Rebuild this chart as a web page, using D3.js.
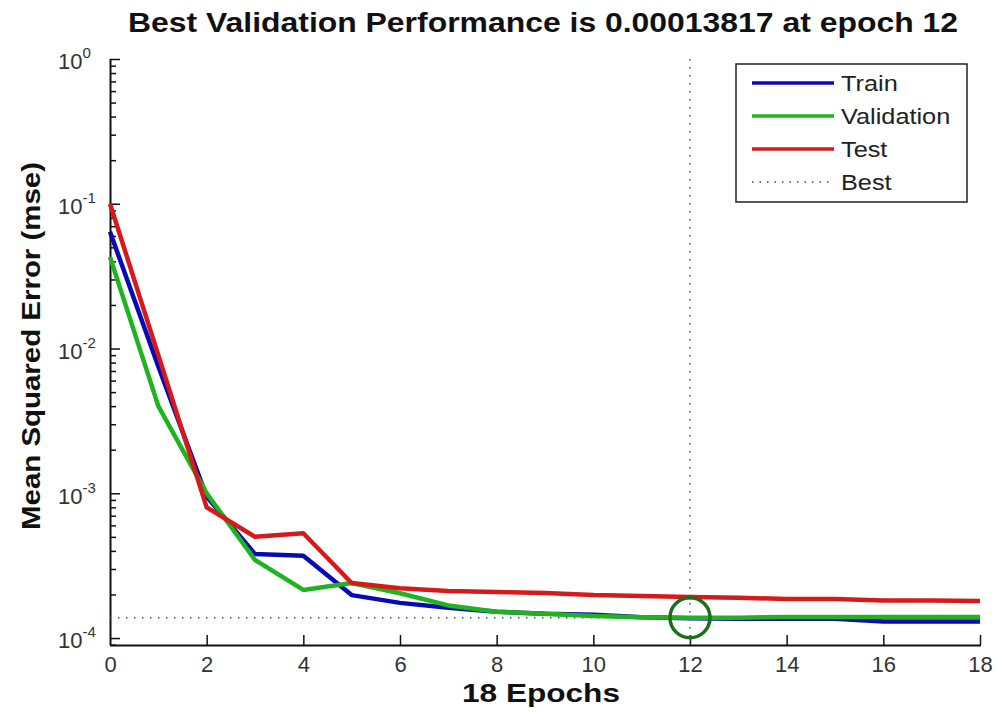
<!DOCTYPE html>
<html>
<head>
<meta charset="utf-8">
<script src="https://cdn.jsdelivr.net/npm/d3@7"></script>
<style>
  body { margin: 0; background: #fff; }
  svg { display: block; }
</style>
</head>
<body>
<svg id="chart" width="997" height="713"></svg>
<script>
const epochs = d3.range(0, 19);
const trainValues = [0.064, 0.0075, 0.00095, 0.00038, 0.00037, 0.000198, 0.000175, 0.000162, 0.000152, 0.000147, 0.000145, 0.000139, 0.000137, 0.000136, 0.000136, 0.000136, 0.00013, 0.00013, 0.00013];
const validationValues = [0.043, 0.004, 0.001, 0.000346, 0.000215, 0.00024, 0.000204, 0.000168, 0.000152, 0.000147, 0.000142, 0.000139, 0.00013817, 0.00013817, 0.00014, 0.00014, 0.00014, 0.00014, 0.00014];
const testValues = [0.1, 0.009, 0.0008, 0.0005, 0.00053, 0.00024, 0.000221, 0.000211, 0.000208, 0.000205, 0.000198, 0.000195, 0.000192, 0.00019, 0.000186, 0.000186, 0.000182, 0.000182, 0.00018];
const bestEpoch = 12;
const bestValue = 0.00013817;
const xTicks = [0, 2, 4, 6, 8, 10, 12, 14, 16, 18];
const yMajorExponents = [0, -1, -2, -3, -4];
const seriesNames = ["Train", "Validation", "Test", "Best"];
const titleText = "Best Validation Performance is 0.00013817 at epoch 12";
const xLabelText = "18 Epochs";
const yLabelText = "Mean Squared Error  (mse)";

const colors = { Train: "#0a0ab4", Validation: "#1fb41f", Test: "#d41a1a", Best: "#2a7a2a" };

const svg = d3.select("#chart");
const plotLeft = 110, plotRight = 980, plotTop = 59, plotBottom = 645;

const x = d3.scaleLinear().domain([0, 18]).range([plotLeft, plotRight]);
const y = d3.scaleLog().domain([Math.pow(10, -4.048), 1]).range([plotBottom, plotTop]);

const fontTick = "'Liberation Sans', Arial, sans-serif";

svg.append("text")
  .attr("x", 128).attr("y", 32)
  .attr("font-family", fontTick)
  .attr("font-weight", "bold")
  .attr("font-size", 27)
  .attr("textLength", 830)
  .attr("lengthAdjust", "spacingAndGlyphs")
  .attr("fill", "#111")
  .text(titleText);

svg.append("text")
  .attr("x", 462).attr("y", 702)
  .attr("font-family", fontTick)
  .attr("font-weight", "bold")
  .attr("font-size", 25)
  .attr("textLength", 158)
  .attr("lengthAdjust", "spacingAndGlyphs")
  .attr("fill", "#111")
  .text(xLabelText);

svg.append("text")
  .attr("transform", "translate(40,530) rotate(-90)")
  .attr("font-family", fontTick)
  .attr("font-weight", "bold")
  .attr("font-size", 26)
  .attr("textLength", 368)
  .attr("lengthAdjust", "spacingAndGlyphs")
  .attr("fill", "#111")
  .text(yLabelText);

const minorTicks = [];
for (let e = -5; e < 0; e++) {
  for (let m = 2; m <= 9; m++) {
    const v = m * Math.pow(10, e);
    if (v >= y.domain()[0] && v <= 1) minorTicks.push(v);
  }
}
svg.append("g")
  .attr("transform", `translate(${plotLeft},0)`)
  .call(d3.axisLeft(y).tickValues(minorTicks).tickSizeInner(-6).tickSizeOuter(0).tickFormat(""))
  .call(g => g.select(".domain").remove())
  .call(g => g.selectAll(".tick line").attr("stroke", "#111").attr("stroke-width", 1.5));

const yAxis = svg.append("g")
  .attr("transform", `translate(${plotLeft},0)`)
  .call(d3.axisLeft(y).tickValues(yMajorExponents.map(e => Math.pow(10, e))).tickSizeInner(-10).tickSizeOuter(0).tickPadding(18).tickFormat(""));
yAxis.select(".domain").attr("stroke", "#111").attr("stroke-width", 2)
  .attr("d", `M0.5,${plotTop}V${plotBottom}`);
yAxis.selectAll(".tick line").attr("stroke", "#111").attr("stroke-width", 1.5);
yAxis.selectAll(".tick").each(function(d) {
  const t = d3.select(this).select("text");
  const exp = Math.round(Math.log10(d));
  t.attr("x", -52).attr("dy", "0.45em").attr("text-anchor", "start")
    .attr("font-family", fontTick).attr("font-size", 22).attr("fill", "#333");
  t.text(null);
  t.append("tspan").text("10");
  t.append("tspan").attr("dy", -11).attr("font-size", 15).text(String(exp));
});

const xAxis = svg.append("g")
  .attr("transform", `translate(0,${plotBottom})`)
  .call(d3.axisBottom(x).tickValues(xTicks).tickSizeInner(-10).tickSizeOuter(0).tickPadding(11));
xAxis.select(".domain").attr("stroke", "#111").attr("stroke-width", 2)
  .attr("d", `M${plotLeft},0.5H${plotRight + 1}`);
xAxis.selectAll(".tick line").attr("stroke", "#111").attr("stroke-width", 1.5);
xAxis.selectAll(".tick text").attr("font-family", fontTick).attr("font-size", 22).attr("fill", "#333");
xAxis.selectAll(".tick").filter(d => d === 0).select("line").remove();

svg.append("line")
  .attr("x1", x(0)).attr("x2", x(18))
  .attr("y1", y(bestValue)).attr("y2", y(bestValue))
  .attr("stroke", colors.Best).attr("stroke-width", 1.5)
  .attr("stroke-dasharray", "1.5,6.5");
svg.append("line")
  .attr("x1", x(bestEpoch)).attr("x2", x(bestEpoch))
  .attr("y1", plotTop).attr("y2", plotBottom)
  .attr("stroke", colors.Best).attr("stroke-width", 1.5)
  .attr("stroke-dasharray", "1.5,6.5");

const line = d3.line().x((d, i) => x(epochs[i])).y(d => y(d));
const series = [
  { name: "Train", values: trainValues },
  { name: "Validation", values: validationValues },
  { name: "Test", values: testValues }
];
svg.append("g").selectAll("path")
  .data(series)
  .join("path")
  .attr("d", d => line(d.values))
  .attr("fill", "none")
  .attr("stroke", d => colors[d.name])
  .attr("stroke-width", 4.5)
  .attr("stroke-linejoin", "round");

svg.append("circle")
  .attr("cx", x(bestEpoch)).attr("cy", y(bestValue))
  .attr("r", 20)
  .attr("fill", "none")
  .attr("stroke", "#1a701a")
  .attr("stroke-width", 3.5);

const lg = svg.append("g");
lg.append("rect")
  .attr("x", 736).attr("y", 64).attr("width", 231).attr("height", 138)
  .attr("fill", "#fff").attr("stroke", "#222").attr("stroke-width", 1.5);
seriesNames.forEach((name, i) => {
  const cy = 83 + i * 33;
  const l = lg.append("line")
    .attr("x1", 752).attr("x2", 834).attr("y1", cy).attr("y2", cy)
    .attr("stroke", name === "Best" ? "#444" : colors[name])
    .attr("stroke-width", name === "Best" ? 1.5 : 3.5);
  if (name === "Best") l.attr("stroke-dasharray", "1.5,6");
  const t = lg.append("text")
    .attr("x", 841).attr("y", cy).attr("dy", "0.36em")
    .attr("font-family", fontTick).attr("font-size", 22).attr("fill", "#222")
    .text(name);
  const w = t.node().getComputedTextLength();
  t.attr("textLength", w * 1.15).attr("lengthAdjust", "spacingAndGlyphs");
});
</script>
</body>
</html>
